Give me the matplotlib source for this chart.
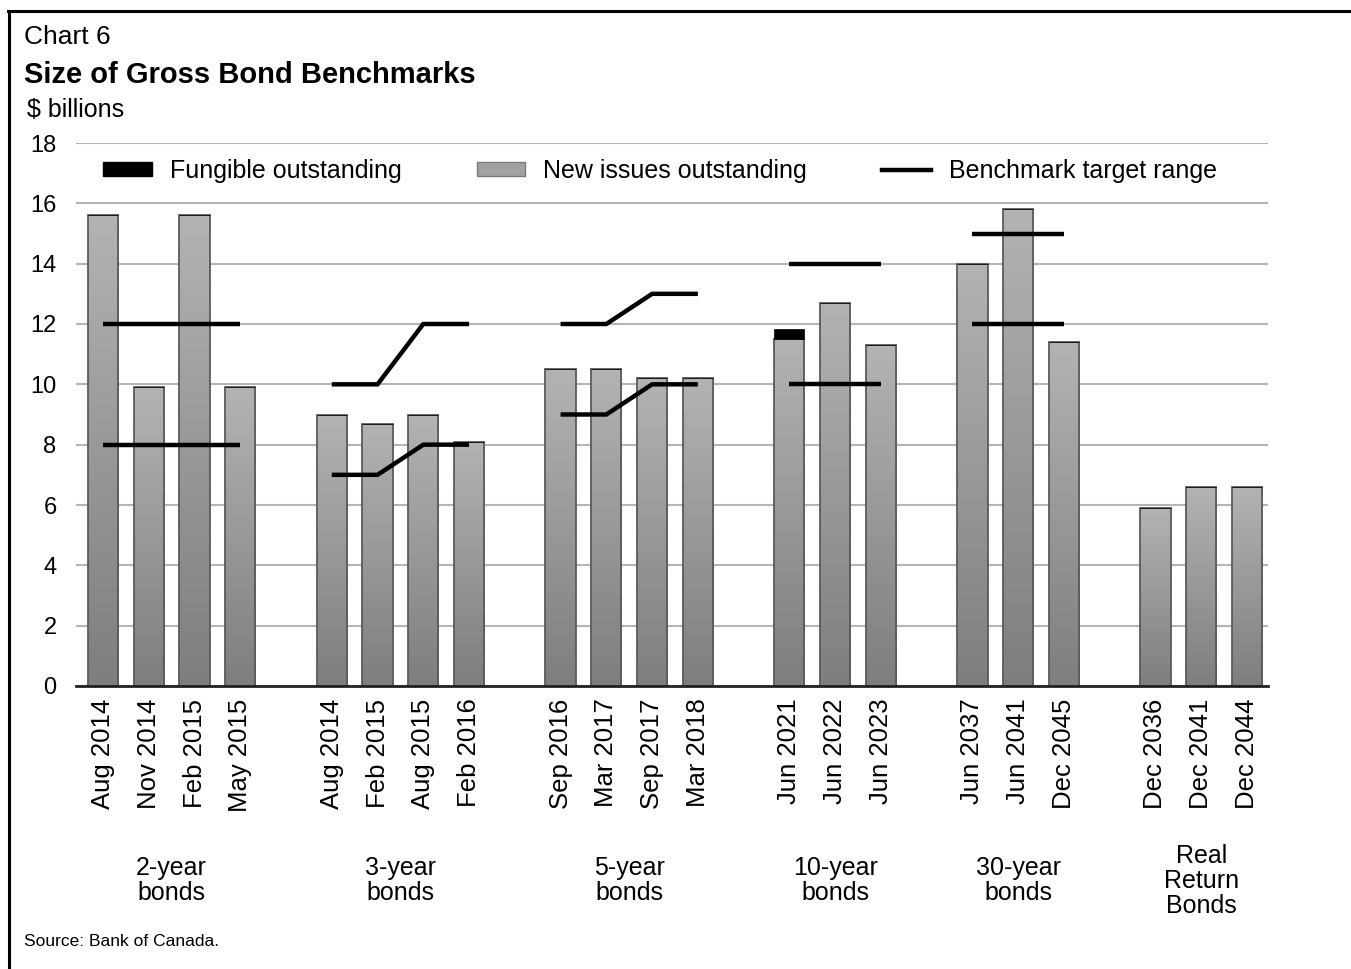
import matplotlib
matplotlib.use('Agg')
import matplotlib.pyplot as plt
import numpy as np
from matplotlib.patches import Patch
from matplotlib.lines import Line2D
from matplotlib.colors import LinearSegmentedColormap
from matplotlib import font_manager as fm

# ---------------- data ----------------
group_names = ['2-year\nbonds', '3-year\nbonds', '5-year\nbonds',
               '10-year\nbonds', '30-year\nbonds', 'Real\nReturn\nBonds']
bond_labels = [
    ['Aug 2014', 'Nov 2014', 'Feb 2015', 'May 2015'],
    ['Aug 2014', 'Feb 2015', 'Aug 2015', 'Feb 2016'],
    ['Sep 2016', 'Mar 2017', 'Sep 2017', 'Mar 2018'],
    ['Jun 2021', 'Jun 2022', 'Jun 2023'],
    ['Jun 2037', 'Jun 2041', 'Dec 2045'],
    ['Dec 2036', 'Dec 2041', 'Dec 2044'],
]
new_issues = [
    [15.6, 9.9, 15.6, 9.9],
    [9.0, 8.7, 9.0, 8.1],
    [10.5, 10.5, 10.2, 10.2],
    [11.5, 12.7, 11.3],
    [14.0, 15.8, 11.4],
    [5.9, 6.6, 6.6],
]
fungible = [
    [0, 0, 0, 0],
    [0, 0, 0, 0],
    [0, 0, 0, 0],
    [0.35, 0, 0],
    [0, 0, 0],
    [0, 0, 0],
]
target_low = [
    [8, 8, 8, 8],
    [7, 7, 8, 8],
    [9, 9, 10, 10],
    [10, 10, 10],
    [12, 12, 12],
    None,
]
target_high = [
    [12, 12, 12, 12],
    [10, 10, 12, 12],
    [12, 12, 13, 13],
    [14, 14, 14],
    [15, 15, 15],
    None,
]
y_ticks = [0, 2, 4, 6, 8, 10, 12, 14, 16, 18]

# ---------------- fonts ----------------
plt.rcParams['font.family'] = ['Liberation Sans', 'DejaVu Sans']
try:
    fm.findfont('Liberation Sans Narrow', fallback_to_default=False)
    narrow = 'Liberation Sans Narrow'
    src_size = 15
except Exception:
    narrow = 'Liberation Sans'
    src_size = 12.5

W, H = 1351, 969
fig = plt.figure(figsize=(W / 100, H / 100), dpi=100)
ax = fig.add_axes([76 / W, 1 - 686 / H, (1268 - 76) / W, (686 - 143) / H])

# positions: one empty slot between groups
positions = []
pos = 0
for g in bond_labels:
    positions.append(list(range(pos, pos + len(g))))
    pos += len(g) + 1

cmap = LinearSegmentedColormap.from_list('barg', ['#b3b3b3', '#7e7e7e'])
grad = np.linspace(0, 1, 256).reshape(-1, 1)
bar_w = 0.66

all_x, all_lab = [], []
for gi, g in enumerate(bond_labels):
    xs = positions[gi]
    bars = ax.bar(xs, new_issues[gi], width=bar_w, facecolor='none',
                  edgecolor='#5a5a5a', linewidth=1.3, zorder=3)
    for b in bars:
        x0, w_, h_ = b.get_x(), b.get_width(), b.get_height()
        im = ax.imshow(grad, cmap=cmap, aspect='auto', extent=[x0, x0 + w_, 0, h_],
                       origin='upper', zorder=2, interpolation='bicubic')
        im.set_clip_path(b)
    ax.bar(xs, fungible[gi], width=bar_w, bottom=new_issues[gi], color='black',
           edgecolor='black', linewidth=0.5, zorder=3)
    if target_low[gi] is not None:
        ax.plot(xs, target_low[gi], color='black', lw=3.2, zorder=4,
                solid_capstyle='butt', solid_joinstyle='miter')
        ax.plot(xs, target_high[gi], color='black', lw=3.2, zorder=4,
                solid_capstyle='butt', solid_joinstyle='miter')
    all_x += xs
    all_lab += g
    ax.text(np.mean(xs), -6.45, group_names[gi], ha='center', va='center',
            fontsize=18, linespacing=1.05, transform=ax.transData, clip_on=False)

ax.set_xlim(-0.59, 25.46)
ax.set_ylim(0, 18)
ax.set_yticks(y_ticks)
ax.set_yticklabels([str(v) for v in y_ticks], fontsize=17)
ax.set_xticks(all_x)
ax.set_xticklabels(all_lab, rotation=90, fontsize=18.5, va='top', ha='center')
ax.tick_params(axis='both', length=0)
ax.tick_params(axis='y', pad=14)
ax.tick_params(axis='x', pad=9)
ax.grid(axis='y', color='#b5b5b5', linewidth=1.5, zorder=0)
ax.set_axisbelow(True)
for s in ['top', 'right', 'left']:
    ax.spines[s].set_visible(False)
ax.spines['bottom'].set_color('#222222')
ax.spines['bottom'].set_linewidth(2)
ax.spines['bottom'].set_zorder(5)

handles = [Patch(facecolor='black', edgecolor='black'),
           Patch(facecolor='#a2a2a2', edgecolor='#7a7a7a'),
           Line2D([0], [0], color='black', lw=3.2)]
leg = ax.legend(handles, ['Fungible outstanding', 'New issues outstanding',
                          'Benchmark target range'],
                loc='center left', bbox_to_anchor=((103 - 76) / 1192, (686 - 171) / 543),
                ncol=3, frameon=False, fontsize=18, handlelength=1.95,
                handleheight=0.5, handletextpad=0.72, columnspacing=3.0,
                borderpad=0, borderaxespad=0)

# titles
fig.text(24 / W, 1 - 37 / H, 'Chart 6', fontsize=19, va='center', ha='left')
fig.text(24 / W, 1 - 75 / H, 'Size of Gross Bond Benchmarks', fontsize=21,
         fontweight='bold', va='center', ha='left')
fig.text(27 / W, 1 - 110 / H, '$ billions', fontsize=18, va='center', ha='left')
fig.text(24 / W, 1 - 941 / H, 'Source: Bank of Canada.', fontsize=src_size,
         family=[narrow, 'DejaVu Sans'], va='center', ha='left')

# border (top and left)
fig.add_artist(Line2D([9 / W, 9 / W], [0, 1 - 10.5 / H], transform=fig.transFigure,
                      color='black', lw=2.2))
fig.add_artist(Line2D([8 / W, 1], [1 - 10.5 / H, 1 - 10.5 / H], transform=fig.transFigure,
                      color='black', lw=2.2))

fig.savefig('out.png', dpi=100)
